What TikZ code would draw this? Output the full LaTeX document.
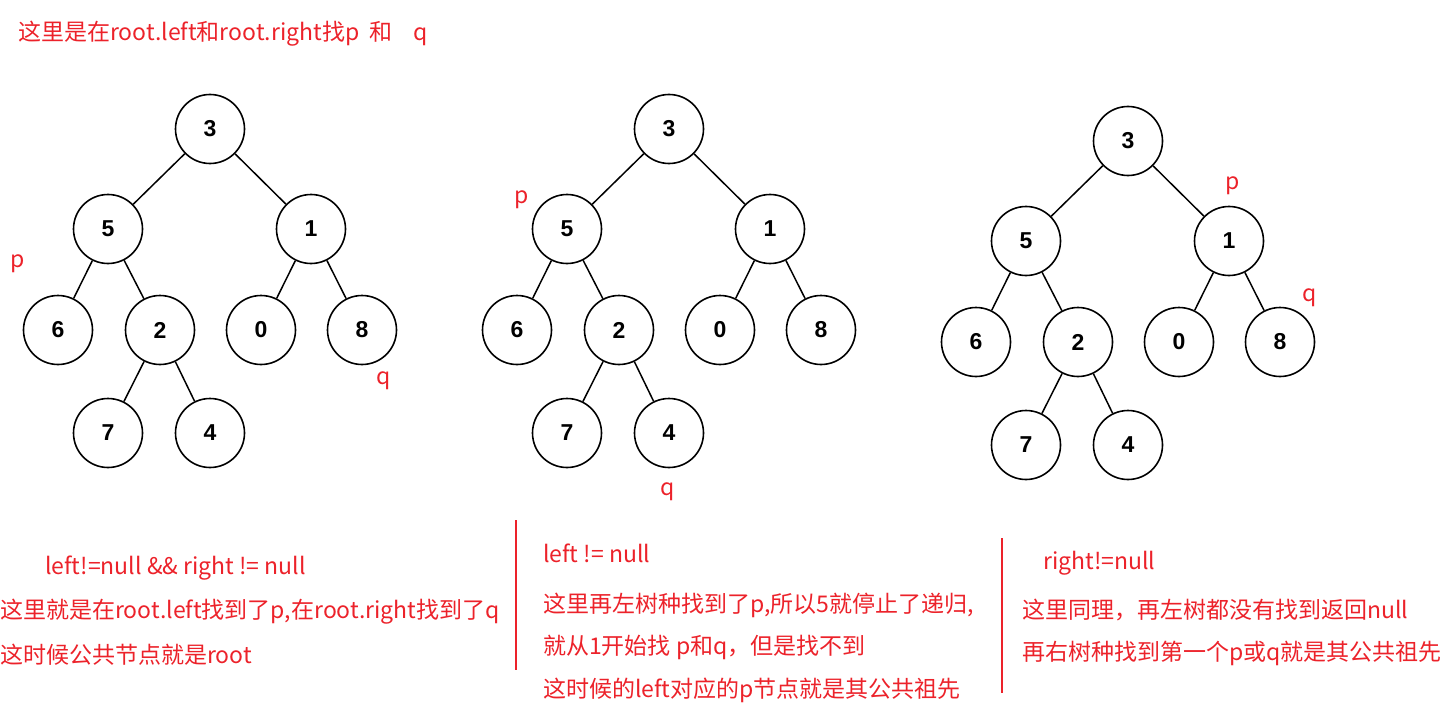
\documentclass[tikz,border=0pt]{standalone}
\usepackage{fontspec}
\setmainfont{Liberation Sans}
\newfontfamily\cjk{Noto Sans CJK SC}
\usetikzlibrary{positioning}
\definecolor{hlred}{RGB}{236,34,42}

\begin{document}
\begin{tikzpicture}[x=1pt,y=-1pt,
  tnode/.style={circle,draw,line width=1.6pt,minimum size=69pt,inner sep=0pt,font=\bfseries\fontsize{23}{23}\selectfont},
  tedge/.style={line width=1.5pt},
  note/.style={text=hlred,font=\cjk\fontsize{23}{23}\selectfont,anchor=west,inner sep=0pt},
  divider/.style={draw=hlred,line width=2.6pt}]
  \useasboundingbox (0,0) rectangle (1456,706);
  % the three trees
  \foreach \t/\dx/\dy in {a/0/0,b/459/0,c/918/12}{
    \begin{scope}[shift={(\dx,\dy)}]
      \node[tnode] (\t3) at (210,129){3};
      \node[tnode] (\t5) at (108,229){5};
      \node[tnode] (\t1) at (311,229){1};
      \node[tnode] (\t6) at (58,330){6};
      \node[tnode] (\t2) at (160,330){2};
      \node[tnode] (\t0) at (261,330){0};
      \node[tnode] (\t8) at (362,330){8};
      \node[tnode] (\t7) at (108,433){7};
      \node[tnode] (\t4) at (210,433){4};
      \draw[tedge] (\t3)--(\t5);
      \draw[tedge] (\t3)--(\t1);
      \draw[tedge] (\t5)--(\t6);
      \draw[tedge] (\t5)--(\t2);
      \draw[tedge] (\t1)--(\t0);
      \draw[tedge] (\t1)--(\t8);
      \draw[tedge] (\t2)--(\t7);
      \draw[tedge] (\t2)--(\t4);
    \end{scope}
  }
  % p and q marks
  \node[note,anchor=center] (ap) at (18,264){p};
  \node[note,anchor=center] (aq) at (384,381){q};
  \node[note,anchor=center] (bp) at (522,200){p};
  \node[note,anchor=center] (bq) at (668,492){q};
  \node[note,anchor=center] (cp) at (1233,186){p};
  \node[note,anchor=center] (cq) at (1310,298){q};
  % texts
  \node[note] (title) at (18,34){这里是在root.left和root.right找p\ \ 和\ \ \ \ q};
  \node[note] (cond1) at (45,568){left!=null \&\& right != null};
  \node[note] (txt1a) at (0,612){这里就是在root.left找到了p,在root.right找到了q};
  \node[note] (txt1b) at (0,655){这时候公共节点就是root};
  \node[note] (cond2) at (543,553){left != null};
  \node[note] (txt2a) at (543,605){这里再左树种找到了p,所以5就停止了递归,};
  \node[note] (txt2b) at (543,647){就从1开始找 p和q，但是找不到};
  \node[note] (txt2c) at (543,690){这时候的left对应的p节点就是其公共祖先};
  \node[note] (cond3) at (1043,563){right!=null};
  \node[note] (txt3a) at (1022,610){这里同理，再左树都没有找到返回null};
  \node[note] (txt3b) at (1022,653){再右树种找到第一个p或q就是其公共祖先};
  % dividers
  \draw[divider] (516,520)--(516,670);
  \draw[divider] (1002,538)--(1002,693);
\end{tikzpicture}
\end{document}
